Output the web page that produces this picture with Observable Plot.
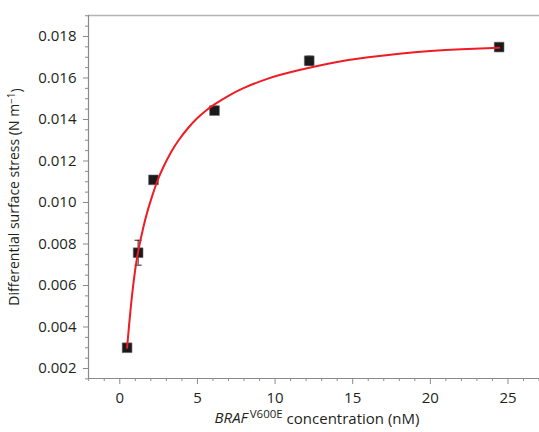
<!DOCTYPE html>
<html><head><meta charset="utf-8">
<script src="https://cdn.jsdelivr.net/npm/d3@7"></script>
<script src="https://cdn.jsdelivr.net/npm/@observablehq/plot@0.6"></script>
<style>body{margin:0;background:#fff} svg{display:block}</style>
</head><body><div id="chart"></div>
<script>
// measured points
const pointX = [0.47, 1.18, 2.17, 6.1, 12.2, 24.43];
const pointY = [0.0030, 0.00758, 0.01109, 0.01443, 0.01683, 0.01749];
const pointErr = [0, 0.0006, 0, 0, 0.00022, 0];
// fitted curve
const fitX = [0.47, 0.6, 0.8, 1.0, 1.2, 1.5, 1.8, 2.1, 2.4, 2.8, 3.3, 3.8, 4.4, 5.0, 5.5, 6.1, 7.0, 8.0, 9.5, 11.5, 14, 16, 18, 20, 22, 24.43];
const fitY = [0.0030, 0.0041, 0.0056, 0.0068, 0.0077, 0.00875, 0.00962, 0.01034, 0.0110, 0.0117, 0.01242, 0.01301, 0.01359, 0.01407, 0.0144, 0.01473, 0.01514, 0.01552, 0.01596, 0.01637, 0.01677, 0.0170, 0.01717, 0.0173, 0.01739, 0.01746];
// ticks
const xTicks = [0, 5, 10, 15, 20, 25];
const xMinorTicks = [-2, -1, 1, 2, 3, 4, 6, 7, 8, 9, 11, 12, 13, 14, 16, 17, 18, 19, 21, 22, 23, 24, 26, 27];
const yTicks = [0.002, 0.004, 0.006, 0.008, 0.010, 0.012, 0.014, 0.016, 0.018];
const yMinorTicks = [0.0015, 0.0025, 0.003, 0.0035, 0.0045, 0.005, 0.0055, 0.0065, 0.007, 0.0075, 0.0085, 0.009, 0.0095, 0.0105, 0.011, 0.0115, 0.0125, 0.013, 0.0135, 0.0145, 0.015, 0.0155, 0.0165, 0.017, 0.0175, 0.0185, 0.019];
const yLabel = "Differential surface stress (N m";
const yLabelSup = "\u22121";
const xLabelItalic = "BRAF";
const xLabelSup = "V600E";
const xLabelRest = " concentration (nM)";

const xDomain = [-2.015, 27.03];
const yDomain = [0.001518, 0.019012];

const points = pointX.map((x, i) => ({x, y: pointY[i], e: pointErr[i]}));
const errs = points.filter(d => d.e > 0);
const fit = fitX.map((x, i) => ({x, y: fitY[i]}));
const capSymbol = {draw(ctx, size) { const w = Math.sqrt(size); ctx.moveTo(-w / 2, 0); ctx.lineTo(w / 2, 0); }};

const textColor = "#231f20";
const axisColor = "#8a8a8a";

const chart = Plot.plot({
  width: 539, height: 432,
  marginLeft: 88, marginRight: 0, marginTop: 15, marginBottom: 54,
  style: {fontFamily: "'Open Sans', sans-serif", fontSize: "14px", color: textColor, background: "#fff", overflow: "visible"},
  x: {domain: xDomain},
  y: {domain: yDomain},
  marks: [
    Plot.ruleY([yDomain[1]], {stroke: "#b4b4b4", strokeWidth: 1.5}),
    Plot.axisY({ticks: yMinorTicks, tickSize: 3, tickFormat: () => "", label: null, stroke: axisColor}),
    Plot.axisY({ticks: yTicks, tickSize: 5, tickPadding: 7, tickFormat: d3.format(".3f"), label: null, stroke: axisColor, fill: textColor, fontSize: 15}),
    Plot.axisX({ticks: xMinorTicks, tickSize: 3, tickFormat: () => "", label: null, stroke: axisColor}),
    Plot.axisX({ticks: xTicks, tickSize: 6, tickPadding: 8, tickFormat: d3.format("d"), label: null, stroke: axisColor, fill: textColor, fontSize: 15}),
    Plot.ruleX([xDomain[0]], {stroke: axisColor, strokeWidth: 1.2}),
    Plot.ruleY([yDomain[0]], {stroke: axisColor, strokeWidth: 1.2}),
    Plot.ruleX(errs, {x: "x", y1: d => d.y - d.e, y2: d => d.y + d.e, stroke: "#222", strokeWidth: 1}),
    Plot.dot(errs, {x: "x", y: d => d.y + d.e, symbol: capSymbol, r: 4, fill: "none", stroke: "#222", strokeWidth: 1}),
    Plot.dot(errs, {x: "x", y: d => d.y - d.e, symbol: capSymbol, r: 4, fill: "none", stroke: "#222", strokeWidth: 1}),
    Plot.dot(points, {x: "x", y: "y", symbol: "square", r: 5.5, fill: "#1a1a1a", stroke: "#666", strokeWidth: 0.6}),
    Plot.line(fit, {x: "x", y: "y", curve: "natural", stroke: "#ee1c24", strokeWidth: 2})
  ]
});
document.getElementById("chart").appendChild(chart);

const svg = d3.select(chart);
// y label
const yl = svg.append("text")
  .attr("transform", "translate(19,197) rotate(-90)")
  .attr("text-anchor", "middle")
  .attr("fill", textColor)
  .style("font-size", "14px");
yl.append("tspan").text(yLabel);
yl.append("tspan").attr("dy", "-0.4em").style("font-size", "10px").text(yLabelSup);
yl.append("tspan").attr("dy", "0.4em").text(")");
// x label
const xl = svg.append("text")
  .attr("x", 317).attr("y", 423)
  .attr("text-anchor", "middle")
  .attr("fill", textColor)
  .style("font-size", "15px");
xl.append("tspan").style("font-style", "italic").text(xLabelItalic);
xl.append("tspan").attr("dx", "2").attr("dy", "-0.4em").style("font-size", "11.5px").text(xLabelSup);
xl.append("tspan").attr("dy", "0.4em").text(xLabelRest);
</script>
</body></html>
